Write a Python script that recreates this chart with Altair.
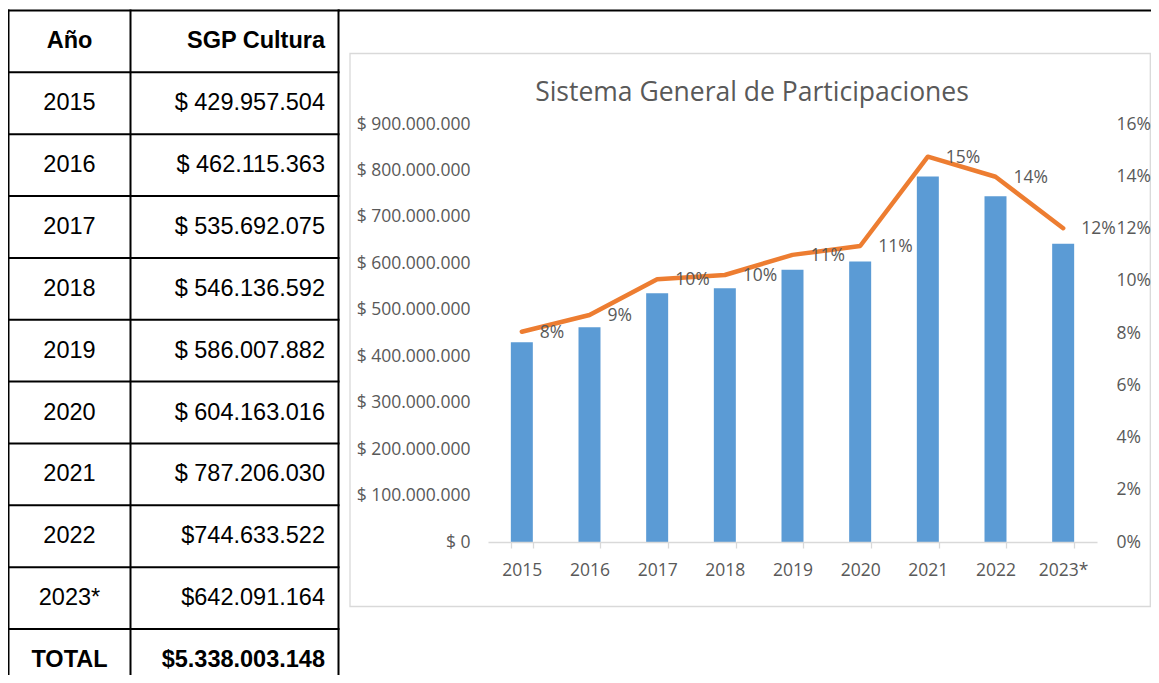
import altair as alt
import pandas as pd

# ---------------- data ----------------
years = ["2015", "2016", "2017", "2018", "2019", "2020", "2021", "2022", "2023*"]
sgp_values = [429957504, 462115363, 535692075, 546136592, 586007882,
              604163016, 787206030, 744633522, 642091164]
share_values = [0.0805, 0.0869, 0.1006, 0.1022, 0.1099, 0.1133, 0.1475, 0.1398, 0.1201]

table_header = ["Año", "SGP Cultura"]
table_money = ["$ 429.957.504", "$ 462.115.363", "$ 535.692.075", "$ 546.136.592",
               "$ 586.007.882", "$ 604.163.016", "$ 787.206.030", "$744.633.522",
               "$642.091.164"]
table_total = ["TOTAL", "$5.338.003.148"]
title_text = "Sistema General de Participaciones"

left_ticks = [0, 100000000, 200000000, 300000000, 400000000, 500000000,
              600000000, 700000000, 800000000, 900000000]
right_ticks = [0, 0.02, 0.04, 0.06, 0.08, 0.10, 0.12, 0.14, 0.16]

# ---------------- layout (page pixels) ----------------
OX, OY = 488, 124          # plot-area origin on the page
W, H = 609, 418            # plot-area size
PAGE_RIGHT = 1151          # keep svg inside the 1143px wide container
ROW_H = 61.85
TABLE_TOP = 10.5
TAB_L, TAB_MID, TAB_R = 8.5, 130.5, 338.5


def vx(px):
    return px - OX


def vy(py):
    return py - OY


GRAY = "#595959"
CFONT = "Open Sans"
TFONT = "Liberation Sans"

chart_df = pd.DataFrame({"year": years, "sgp": sgp_values, "share": share_values})

rows_c1 = [table_header[0]] + years + [table_total[0]]
rows_c2 = [table_header[1]] + table_money + [table_total[1]]
n_rows = len(rows_c1)
table_df = pd.DataFrame({
    "r": list(range(n_rows)),
    "c1": rows_c1,
    "c2": rows_c2,
    "bold": [True] + [False] * len(years) + [True],
})
one = pd.DataFrame({"k": [0]})

# ---------------- chart part ----------------
x_enc = alt.X(
    "year:N", sort=years, title=None,
    scale=alt.Scale(paddingInner=0.675, paddingOuter=0.3375),
    axis=alt.Axis(labelAngle=0, tickBand="extent", domainColor="#d9d9d9",
                  domainWidth=1.3, tickColor="#d9d9d9", tickWidth=1.3, tickSize=6,
                  labelPadding=13, labelFont=CFONT, labelFontSize=17.5,
                  labelColor=GRAY, grid=False, zindex=1),
)

bars = alt.Chart(chart_df).mark_bar(color="#5b9bd5").encode(
    x=x_enc,
    y=alt.Y("sgp:Q", title=None,
            scale=alt.Scale(domain=[0, 900000000], nice=False),
            axis=alt.Axis(orient="left", values=left_ticks,
                          labelExpr="'$ ' + replace(replace(format(datum.value, ','), ',', '.'), ',', '.')",
                          domain=False, ticks=False, grid=False, labelPadding=18,
                          labelFont=CFONT, labelFontSize=17.5, labelColor=GRAY,
                          zindex=1)),
)

line = alt.Chart(chart_df).mark_line(
    color="#ed7d31", strokeWidth=4.5, strokeCap="round", strokeJoin="round"
).encode(
    x=alt.X("year:N", sort=years),
    y=alt.Y("share:Q", title=None,
            scale=alt.Scale(domain=[0, 0.16], nice=False),
            axis=alt.Axis(orient="right", values=right_ticks, format=".0%",
                          domain=False, ticks=False, grid=False, labelPadding=19,
                          labelFont=CFONT, labelFontSize=17.5, labelColor=GRAY,
                          zindex=1)),
)
line_labels = line.mark_text(
    align="left", baseline="middle", dx=18, dy=1,
    font=CFONT, fontSize=17.5, color=GRAY,
).encode(text=alt.Text("share:Q", format=".0%"))

line_group = alt.layer(line, line_labels)

panel = alt.Chart(one).mark_rect(
    fillOpacity=0, stroke="#d9d9d9", strokeWidth=1.3
).encode(
    x=alt.value(vx(350)), x2=alt.value(vx(1150.3)),
    y=alt.value(vy(53.5)), y2=alt.value(vy(606.5)),
)

title = alt.Chart(pd.DataFrame({"t": [title_text]})).mark_text(
    align="center", baseline="alphabetic", font=CFONT, fontSize=26.5, color=GRAY
).encode(text="t:N", x=alt.value(vx(752)), y=alt.value(vy(101)))

# ---------------- table part ----------------
row_scale = alt.Scale(domain=[0, n_rows],
                      range=[vy(TABLE_TOP), vy(TABLE_TOP + n_rows * ROW_H)])

h_rules = alt.Chart(table_df).mark_rule(
    color="black", strokeWidth=2, strokeCap="square"
).encode(
    y=alt.Y("r:Q", scale=row_scale, axis=None),
    x=alt.value(vx(TAB_L)), x2=alt.value(vx(TAB_R)),
)


def table_text(col, xpos, align, bold):
    return alt.Chart(table_df).transform_filter(
        "datum.bold" if bold else "!datum.bold"
    ).transform_calculate(mid="datum.r + 0.5").mark_text(
        align=align, baseline="middle", font=TFONT, fontSize=23.5,
        fontWeight="bold" if bold else "normal", color="black",
    ).encode(
        y=alt.Y("mid:Q", scale=row_scale, axis=None),
        x=alt.value(xpos),
        text=f"{col}:N",
    )


table_group = alt.layer(
    h_rules,
    table_text("c1", vx((TAB_L + TAB_MID) / 2), "center", False),
    table_text("c1", vx((TAB_L + TAB_MID) / 2), "center", True),
    table_text("c2", vx(325), "right", False),
    table_text("c2", vx(325), "right", True),
)


def vrule(px):
    return alt.Chart(one).mark_rule(color="black", strokeWidth=2, strokeCap="square").encode(
        x=alt.value(vx(px)), y=alt.value(vy(TABLE_TOP)), y2=alt.value(vy(690)))


top_line = alt.Chart(one).mark_rule(color="black", strokeWidth=2).encode(
    x=alt.value(vx(TAB_R)), x2=alt.value(vx(PAGE_RIGHT + 5)), y=alt.value(vy(TABLE_TOP)))

chart = alt.layer(
    panel, bars, line_group, title, table_group,
    vrule(TAB_L), vrule(TAB_MID), vrule(TAB_R), top_line,
).resolve_scale(y="independent").properties(
    width=W, height=H,
    autosize=alt.AutoSizeParams(type="none"),
    padding={"left": OX - 8, "top": OY - 8, "right": PAGE_RIGHT - 8 - (OX - 8) - W,
             "bottom": 675 - 8 - (OY - 8) - H},
    background="white",
).configure_view(stroke=None)

chart.save("out.html", embed_options={"renderer": "svg", "actions": False})
